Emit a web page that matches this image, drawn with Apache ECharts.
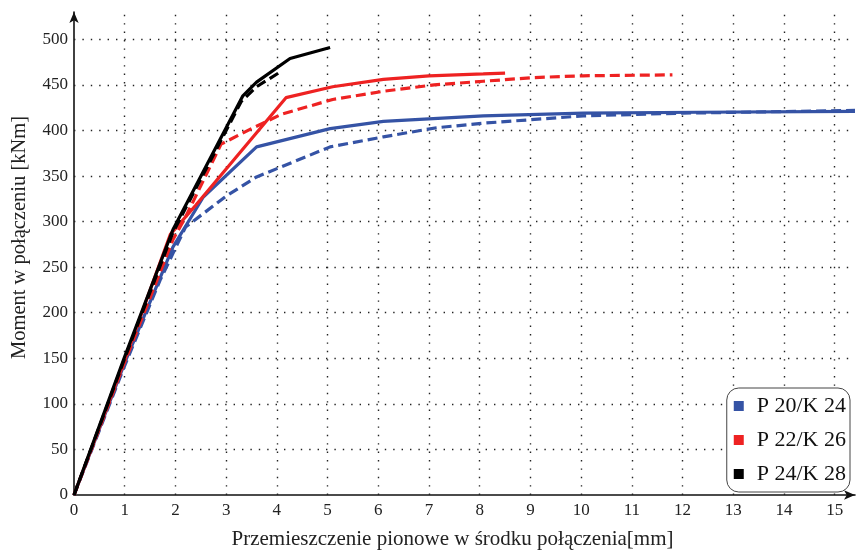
<!DOCTYPE html>
<html><head><meta charset="utf-8">
<script src="https://cdn.jsdelivr.net/npm/echarts@6/dist/echarts.min.js"></script>
<style>html,body{margin:0;padding:0;background:#fff}#c{width:856px;height:552px}</style>
</head><body><div id="c"></div>
<script>
const seriesNames = ['P 20/K 24', 'P 22/K 26', 'P 24/K 28'];
const xTicks = [0,1,2,3,4,5,6,7,8,9,10,11,12,13,14,15];
const yTicks = [0,50,100,150,200,250,300,350,400,450,500];
const blueSolid = [[0,0],[1,145],[1.95,272],[2.55,327],[3.6,382],[5.05,402],[6.1,410],[8.07,416],[10.04,419],[12.35,420],[15.4,421]];
const blueDashed = [[0,0],[1,142],[1.7,236],[2.2,294],[3,328],[3.6,349],[5.05,382],[6.1,393],[7.15,403],[8.07,408],[10.04,416],[12,419],[15.4,422]];
const redSolid = [[0,0],[1,148],[1.9,286],[2.4,318],[4.18,436],[5.1,448],[6.1,456],[7,460],[8.07,462],[8.5,463]];
const redDashed = [[0,0],[1,146],[1.95,280],[2.2,305],[2.9,385],[3.5,402],[4.1,418],[5.1,434],[6.1,443],[7.1,450],[8.07,454],[9.05,458],[10.04,460],[11.8,461]];
const blackSolid = [[0,0],[1,152],[1.95,291],[3.33,438],[3.6,453],[4.26,479],[5.05,491]];
const blackDashed = [[0,0],[1,150],[1.95,288],[3.3,432],[3.6,448],[4.06,464]];

const colors = ['#3553a5', '#ee2222', '#000000'];
const font = 'Liberation Serif';
const chart = echarts.init(document.getElementById('c'));
function line(name, data, color, dashed) {
  return {
    name, type: 'line', data, symbol: 'none', color,
    lineStyle: { color, width: 3.2, type: dashed ? [10, 5] : 'solid' },
    z: 5, animation: false
  };
}
const gridLineStyle = { color: '#222', width: 1.4, type: [1.4, 7] };
chart.setOption({
  animation: false,
  grid: { left: 74, right: 1, top: 12, bottom: 57, outerBoundsMode: 'none', containLabel: false },
  xAxis: {
    type: 'value', min: 0, max: 15.4, interval: 1,
    name: 'Przemieszczenie pionowe w środku połączenia[mm]',
    nameLocation: 'middle', nameGap: 34,
    nameTextStyle: { fontFamily: font, fontSize: 21, color: '#222', padding: [0, 24, 0, 0] },
    axisLine: { show: true, symbol: ['none', 'arrow'], symbolSize: [7, 11], lineStyle: { color: '#111', width: 1.6 } },
    axisTick: { show: false },
    splitLine: { show: false },
    axisLabel: { fontFamily: font, fontSize: 17, color: '#222', margin: 7,
      formatter: v => xTicks.includes(v) ? String(v) : '' }
  },
  yAxis: {
    type: 'value', min: 0, max: 530, interval: 50,
    name: 'Moment w połączeniu [kNm]',
    nameLocation: 'middle', nameGap: 44, nameRotate: 90,
    nameTextStyle: { fontFamily: font, fontSize: 20.5, color: '#222', padding: [0, 0, 0, 32] },
    axisLine: { show: true, symbol: ['none', 'arrow'], symbolSize: [7, 11], lineStyle: { color: '#111', width: 1.6 } },
    axisTick: { show: false },
    splitLine: { show: false },
    axisLabel: { fontFamily: font, fontSize: 17, color: '#222', margin: 6,
      formatter: v => yTicks.includes(v) ? String(v) : '' }
  },
  legend: {
    z: 20,
    data: seriesNames.map((n, i) => ({ name: n, itemStyle: { color: colors[i] } })),
    orient: 'vertical', right: 6, bottom: 60,
    icon: 'rect', itemWidth: 10, itemHeight: 10, itemGap: 12,
    backgroundColor: '#fff', borderColor: '#444', borderWidth: 1, borderRadius: 12,
    padding: [7, 4, 7, 7],
    textStyle: { fontFamily: font, fontSize: 22, color: '#111', padding: [0, 0, 0, 8] }
  },
  series: [
    {
      name: 'grid', type: 'line', data: [], silent: true, z: 1,
      markLine: {
        silent: true, symbol: 'none', animation: false, label: { show: false },
        lineStyle: gridLineStyle,
        data: yTicks.filter(v => v > 0).map(v => ({ yAxis: v }))
          .concat(xTicks.filter(v => v > 0).map(v => ({ xAxis: v })))
      }
    },
    line(seriesNames[0], blueSolid, colors[0], false),
    line(seriesNames[0] + ' ', blueDashed, colors[0], true),
    line(seriesNames[1], redSolid, colors[1], false),
    line(seriesNames[1] + ' ', redDashed, colors[1], true),
    line(seriesNames[2] + ' ', blackDashed, colors[2], true),
    line(seriesNames[2], blackSolid, colors[2], false)
  ]
});
</script></body></html>
